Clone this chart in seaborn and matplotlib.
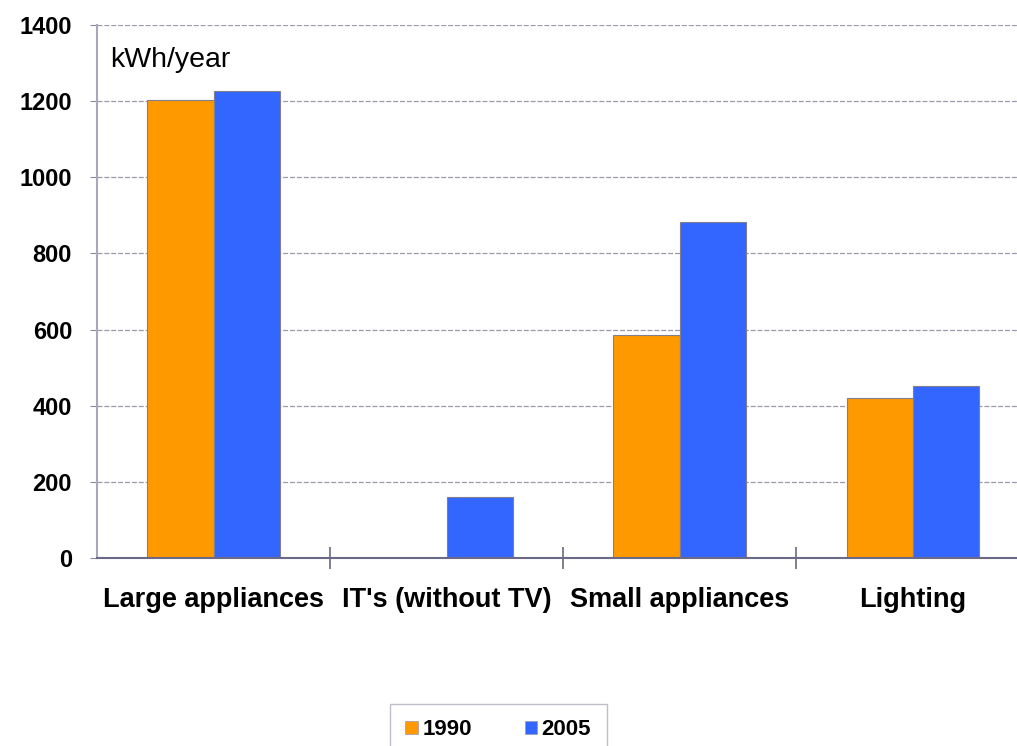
import matplotlib
matplotlib.use("Agg")
import matplotlib.pyplot as plt
import seaborn as sns
import pandas as pd

categories = ["Large appliances", "IT's (without TV)", "Small appliances", "Lighting"]
years = ["1990", "2005"]
values_1990 = [1203, 0, 586, 420]
values_2005 = [1227, 160, 883, 452]
y_ticks = [0, 200, 400, 600, 800, 1000, 1200, 1400]

df = pd.DataFrame({
    "category": categories * 2,
    "year": [years[0]] * 4 + [years[1]] * 4,
    "kwh": values_1990 + values_2005,
})

sns.set_style("white")
plt.rcParams['font.family'] = ['Liberation Sans', 'DejaVu Sans']
plt.rcParams['text.color'] = 'black'
plt.rcParams['xtick.color'] = 'black'
plt.rcParams['ytick.color'] = 'black'

fig = plt.figure(figsize=(10.17, 7.46), dpi=100)
ax = fig.add_axes([0.0954, 0.252, 0.917, 0.7145])

palette = {"1990": "#FF9900", "2005": "#3366FF"}
sns.barplot(data=df, x="category", y="kwh", hue="year", order=categories,
            hue_order=years, palette=palette, width=0.57, saturation=1,
            edgecolor="#7f7f8f", linewidth=0.8, ax=ax, legend=False)

ax.set_ylim(0, 1400)
ax.set_xlim(-0.5, 3.5)
ax.set_yticks(y_ticks)
ax.set_yticklabels([str(v) for v in y_ticks], fontsize=17, fontweight="bold")
ax.set_xticks(range(len(categories)))
ax.set_xticklabels(categories, fontsize=19.5, fontweight="bold")
ax.tick_params(axis="x", which="major", length=0, pad=21)
ax.tick_params(axis="y", left=True, length=5, color="#8a8aa0", direction="out", pad=13)
ax.set_xticks([0.5, 1.5, 2.5], minor=True)
ax.tick_params(axis="x", which="minor", bottom=True, length=16, direction="inout",
               color="#6a6a80", width=1.2)
ax.set_xlabel("")
ax.set_ylabel("")

ax.yaxis.grid(True, linestyle=(0, (4, 1.5)), color="#9a9aaa", linewidth=0.9)
ax.set_axisbelow(True)
for s in ["top", "right"]:
    ax.spines[s].set_visible(False)
ax.spines["left"].set_color("#a8a8bc")
ax.spines["left"].set_linewidth(1.5)
ax.spines["bottom"].set_color("#6a6a88")
ax.spines["bottom"].set_linewidth(1.5)

ax.text(0.014, 0.935, "kWh/year", transform=ax.transAxes, fontsize=20.5,
        ha="left", va="center")

handles = [plt.Rectangle((0, 0), 1, 1, facecolor=palette[y], edgecolor="#9a9aaa", linewidth=0.5)
           for y in years]
leg = fig.legend(handles, years, loc="lower center", bbox_to_anchor=(0.49, -0.013), ncol=2,
                 prop={"weight": "bold", "size": 16},
                 frameon=True, fancybox=False,
                 handlelength=0.55, handleheight=0.55, columnspacing=2.4, handletextpad=0.2,
                 borderpad=0.7, borderaxespad=0)
leg.get_frame().set_edgecolor("#b0b0c0")
leg.get_frame().set_linewidth(1.0)

fig.savefig("out.png", dpi=100)
